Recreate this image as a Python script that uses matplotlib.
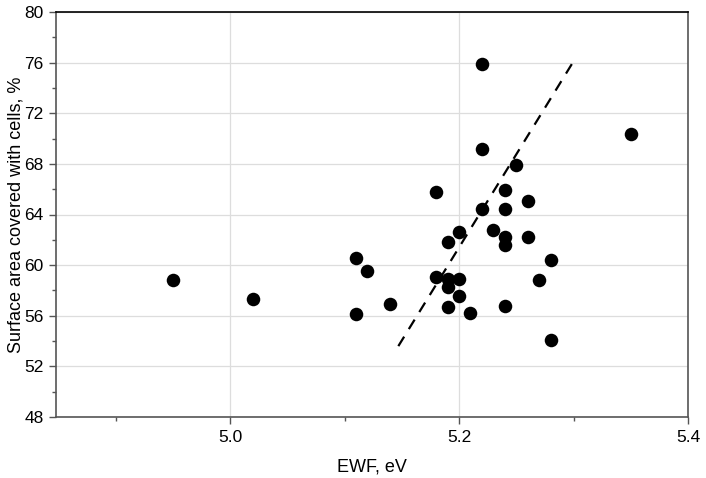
import matplotlib.pyplot as plt
from matplotlib.ticker import MultipleLocator

plt.rcParams['font.family'] = ['Liberation Sans', 'DejaVu Sans']

# EWF (eV) vs surface area covered with cells (%)
ewf = [4.95, 5.02, 5.11, 5.11, 5.12, 5.14, 5.18, 5.18, 5.19, 5.19, 5.19, 5.19,
       5.20, 5.20, 5.20, 5.21, 5.22, 5.22, 5.22, 5.23, 5.24, 5.24, 5.24, 5.24,
       5.24, 5.25, 5.26, 5.26, 5.27, 5.28, 5.28, 5.35]
area = [58.8, 57.3, 60.6, 56.1, 59.5, 56.9, 65.8, 59.1, 61.8, 58.9, 58.3, 56.7,
        62.6, 58.9, 57.6, 56.2, 75.9, 69.2, 64.4, 62.8, 65.9, 64.4, 62.2, 61.6,
        56.8, 67.9, 65.1, 62.2, 58.8, 60.4, 54.1, 70.4]

# dashed trend line end points
trend_x = [5.147, 5.30]
trend_y = [53.6, 76.1]

fig = plt.figure(figsize=(7.06, 4.78), dpi=100)
ax = fig.add_axes([56 / 706, 1 - 417 / 478, (688 - 56) / 706, (417 - 12) / 478])

ax.scatter(ewf, area, s=95, color='black', zorder=3, linewidths=0)
ax.plot(trend_x, trend_y, color='black', linestyle=(0, (5, 4)), linewidth=1.6, zorder=2)

ax.set_xlim(4.848, 5.4)
ax.set_ylim(48, 80)
ax.xaxis.set_major_locator(MultipleLocator(0.2))
ax.xaxis.set_minor_locator(MultipleLocator(0.1))
ax.yaxis.set_major_locator(MultipleLocator(4))
ax.yaxis.set_minor_locator(MultipleLocator(2))
ax.set_xticks([5.0, 5.2, 5.4])
ax.set_xticklabels(['5.0', '5.2', '5.4'])

ax.grid(True, which='major', color='#dddddd', linewidth=0.9, zorder=0)
ax.set_axisbelow(True)

for side in ['left', 'bottom', 'right']:
    ax.spines[side].set_color('#555555')
    ax.spines[side].set_linewidth(1.2)
ax.spines['top'].set_color('black')
ax.spines['top'].set_linewidth(1.2)

ax.tick_params(which='major', direction='out', length=5, width=1, color='#555555',
               labelsize=12.5, pad=4)
ax.tick_params(which='minor', direction='out', length=3, width=1, color='#555555')

ax.set_xlabel('EWF, eV', fontsize=13, labelpad=10)
ax.set_ylabel('Surface area covered with cells, %', fontsize=13, labelpad=0)

fig.savefig('out.png', dpi=100)
